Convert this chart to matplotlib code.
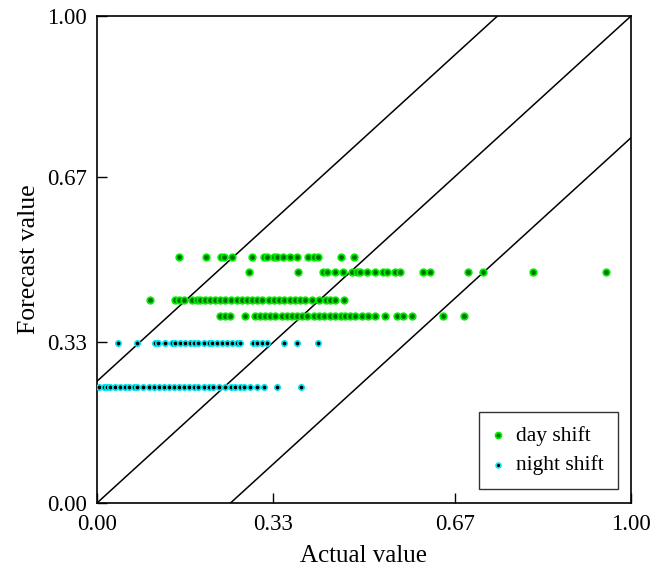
import matplotlib
matplotlib.use("Agg")
import matplotlib.pyplot as plt
import numpy as np

plt.rcParams['font.family'] = ['Liberation Serif', 'DejaVu Serif']

# Day shift: (forecast level, actual values)
day_y_levels = [0.505, 0.475, 0.416, 0.384]
day_x_row1 = [0.154, 0.204, 0.232, 0.238, 0.252, 0.290, 0.312, 0.318, 0.331, 0.337,
              0.348, 0.361, 0.374, 0.396, 0.406, 0.414, 0.456, 0.481]
day_x_row2 = [0.284, 0.376, 0.423, 0.431, 0.446, 0.461, 0.478, 0.487, 0.493, 0.506,
              0.521, 0.536, 0.543, 0.558, 0.567, 0.610, 0.624, 0.695, 0.723, 0.816, 0.953]
day_x_row3 = [0.100, 0.146, 0.153, 0.163, 0.178, 0.187, 0.193, 0.202, 0.212, 0.221,
              0.231, 0.240, 0.250, 0.262, 0.271, 0.281, 0.290, 0.300, 0.309, 0.322,
              0.331, 0.340, 0.350, 0.362, 0.371, 0.381, 0.390, 0.403, 0.415, 0.428,
              0.437, 0.446, 0.462]
day_x_row4 = [0.230, 0.240, 0.249, 0.277, 0.296, 0.305, 0.315, 0.324, 0.333, 0.346,
              0.356, 0.365, 0.375, 0.384, 0.393, 0.406, 0.416, 0.425, 0.436, 0.446,
              0.457, 0.464, 0.474, 0.483, 0.496, 0.507, 0.521, 0.539, 0.562, 0.573,
              0.590, 0.648, 0.687]

night_y_levels = [0.328, 0.238]
night_x_row1 = [0.039, 0.074, 0.109, 0.115, 0.128, 0.140, 0.146, 0.156, 0.165, 0.175,
                0.181, 0.190, 0.200, 0.209, 0.215, 0.225, 0.234, 0.243, 0.253, 0.262,
                0.268, 0.293, 0.300, 0.309, 0.318, 0.350, 0.374, 0.414]
night_x_row2 = [0.003, 0.013, 0.019, 0.025, 0.034, 0.044, 0.053, 0.059, 0.069, 0.075,
                0.087, 0.097, 0.106, 0.116, 0.125, 0.134, 0.144, 0.153, 0.162, 0.172,
                0.181, 0.190, 0.200, 0.209, 0.218, 0.228, 0.240, 0.250, 0.259, 0.268,
                0.275, 0.287, 0.300, 0.312, 0.337, 0.382]

line_offsets = [0.25, 0.0, -0.25]
tick_vals = [0.0, 0.33, 0.67, 1.0]
tick_labels = ["0.00", "0.33", "0.67", "1.00"]

fig = plt.figure(figsize=(6.7, 5.69), dpi=100)
ax = fig.add_axes([97/670, 1-503/569, (631-97)/670, (503-16)/569])

day_rows = [day_x_row1, day_x_row2, day_x_row3, day_x_row4]
night_rows = [night_x_row1, night_x_row2]
dx = np.concatenate([np.array(r) for r in day_rows])
dy = np.concatenate([np.full(len(r), lv) for r, lv in zip(day_rows, day_y_levels)])
nx = np.concatenate([np.array(r) for r in night_rows])
ny = np.concatenate([np.full(len(r), lv) for r, lv in zip(night_rows, night_y_levels)])

xs = np.array([0.0, 1.0])
for off in line_offsets:
    ax.plot(xs, xs + off, color='black', lw=1.1, zorder=1)

ax.scatter(dx, dy, s=22, facecolor='#006b00', edgecolor='#00ee00', linewidth=1.3,
           zorder=3, label='day shift')
ax.scatter(nx, ny, s=15, facecolor='#000000', edgecolor='#00e5ee', linewidth=1.2,
           zorder=3, label='night shift')

ax.set_xlim(0, 1)
ax.set_ylim(0, 1)
ax.set_xticks(tick_vals)
ax.set_xticklabels(tick_labels)
ax.set_yticks(tick_vals)
ax.set_yticklabels(tick_labels)
ax.tick_params(direction='in', length=7, width=1, labelsize=16.5)
ax.tick_params(axis='x', pad=8)
ax.tick_params(axis='y', pad=7)
for sp in ax.spines.values():
    sp.set_linewidth(1.2)
ax.set_xlabel('Actual value', fontsize=18, labelpad=7)
ax.set_ylabel('Forecast value', fontsize=18.5, labelpad=5)

leg = ax.legend(loc='lower right', bbox_to_anchor=(0.976, 0.028), fontsize=15.5,
                frameon=True, fancybox=False, edgecolor='black', markerscale=0.9,
                handletextpad=0.6, borderpad=0.65, labelspacing=0.45, handlelength=0.5,
                borderaxespad=0.0)
leg.get_frame().set_linewidth(1.0)

fig.savefig('out.png', dpi=100)
